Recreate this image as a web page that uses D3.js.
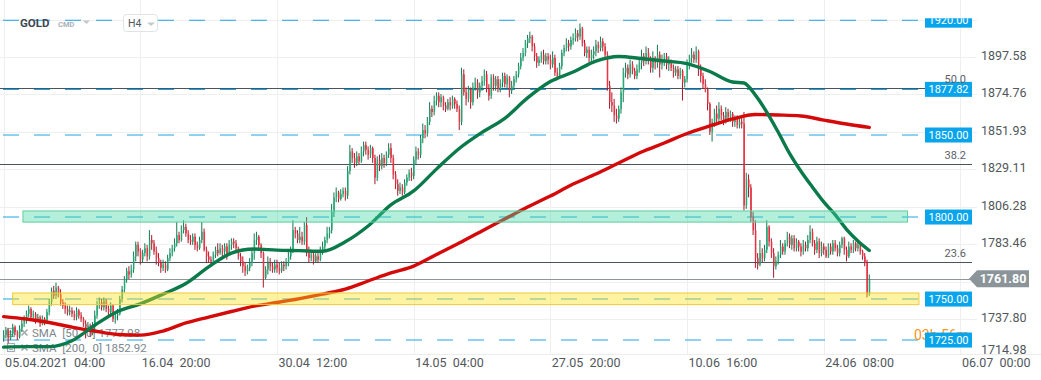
<!DOCTYPE html>
<html><head><meta charset="utf-8">
<script src="https://cdn.jsdelivr.net/npm/d3@7"></script>
<style>
html,body{margin:0;padding:0;background:#fff;}
svg{display:block;font-family:Roboto,"Noto Sans",sans-serif;}
</style></head><body>
<svg id="chart" width="1041" height="380"></svg>
<script>
// ---------- DATA (H4 bars, GOLD, 05.04.2021 04:00 -> 29.06.2021) ----------
const opens = [
1726,1728,1731,1726,1729,1733,1730,1727,1732,1735,
1737,1741,1744,1739,1741,1737,1739,1735,1738,1736,
1742,1748,1755,1752,1757,1753,1748,1746,1744,1742,
1743,1741,1739,1743,1740,1738,1735,1731,1734,1729,
1733,1740,1746,1748,1745,1749,1744,1742,1746,1738,
1740,1741,1750,1756,1762,1767,1765,1768,1776,1783,
1779,1774,1778,1781,1776,1786,1784,1779,1775,1772,
1769,1771,1768,1775,1778,1781,1784,1789,1786,1792,
1794,1790,1786,1785,1788,1783,1781,1786,1791,1780,
1776,1774,1773,1777,1780,1778,1781,1779,1782,1778,
1783,1785,1784,1781,1776,1773,1770,1767,1769,1772,
1778,1786,1788,1783,1778,1763,1768,1772,1770,1768,
1771,1769,1767,1771,1770,1772,1776,1780,1792,1790,
1786,1788,1785,1795,1778,1775,1777,1773,1776,1774,
1779,1782,1786,1790,1792,1803,1812,1815,1811,1814,
1816,1813,1828,1840,1836,1833,1837,1834,1840,1844,
1841,1838,1842,1836,1824,1835,1831,1836,1833,1838,
1842,1836,1826,1820,1816,1818,1815,1821,1824,1827,
1825,1835,1840,1838,1848,1853,1851,1858,1866,1864,
1871,1874,1870,1873,1868,1866,1870,1868,1872,1869,
1866,1858,1887,1876,1872,1878,1870,1879,1882,1876,
1880,1883,1887,1878,1874,1885,1880,1884,1878,1882,
1886,1881,1885,1877,1880,1884,1887,1892,1897,1900,
1906,1909,1910,1904,1898,1894,1896,1899,1895,1898,
1896,1893,1897,1888,1886,1892,1900,1903,1906,1904,
1908,1909,1912,1910,1915,1906,1900,1902,1897,1899,
1901,1905,1903,1907,1904,1899,1880,1870,1868,1862,
1860,1866,1876,1888,1891,1887,1893,1889,1886,1890,
1894,1898,1895,1900,1896,1891,1897,1894,1899,1893,
1896,1898,1893,1895,1891,1888,1890,1886,1889,1882,
1884,1893,1897,1899,1896,1901,1890,1886,1881,1878,
1869,1852,1858,1863,1860,1866,1862,1859,1864,1861,
1863,1858,1860,1856,1858,1857,1807,1823,1818,1800,
1792,1775,1771,1778,1775,1780,1794,1785,1778,1770,
1773,1777,1782,1779,1784,1788,1783,1787,1781,1785,
1782,1779,1783,1781,1786,1791,1784,1780,1785,1778,
1782,1780,1776,1782,1779,1784,1781,1778,1783,1787,
1780,1776,1782,1780,1784,1781,1783,1779,1776,1772,1753
];
const highs = [
1731,1733,1732,1731,1735,1734,1731,1734,1738,1740,
1743,1746,1745,1743,1742,1741,1740,1740,1739,1744,
1750,1757,1758,1760,1758,1756,1750,1748,1746,1746,
1745,1743,1745,1744,1742,1739,1737,1736,1735,1736,
1743,1749,1751,1750,1751,1750,1746,1748,1747,1741,
1744,1752,1758,1764,1769,1770,1771,1779,1785,1785,
1781,1780,1784,1783,1792,1789,1786,1782,1778,1774,
1774,1773,1777,1781,1783,1787,1797,1791,1795,1798,
1796,1792,1789,1790,1790,1785,1788,1797,1793,1782,
1779,1776,1779,1782,1784,1784,1783,1784,1784,1786,
1787,1787,1786,1782,1778,1776,1772,1771,1775,1781,
1790,1791,1789,1784,1779,1770,1776,1775,1772,1774,
1774,1772,1773,1773,1775,1779,1782,1798,1794,1792,
1794,1791,1797,1800,1782,1780,1779,1778,1778,1782,
1785,1788,1794,1794,1808,1815,1818,1816,1817,1818,
1818,1831,1844,1842,1839,1840,1839,1843,1846,1846,
1843,1844,1843,1838,1837,1838,1839,1838,1840,1845,
1845,1838,1828,1823,1821,1820,1823,1826,1829,1830,
1837,1843,1842,1850,1857,1856,1861,1870,1868,1874,
1876,1876,1875,1874,1870,1872,1873,1874,1873,1871,
1868,1891,1890,1879,1880,1879,1882,1885,1884,1882,
1886,1890,1889,1881,1887,1887,1886,1886,1884,1888,
1888,1887,1886,1883,1886,1889,1894,1900,1903,1908,
1911,1913,1911,1906,1900,1898,1901,1902,1900,1900,
1899,1901,1899,1891,1894,1902,1905,1909,1908,1910,
1912,1915,1914,1918,1916,1908,1904,1904,1902,1904,
1908,1907,1910,1909,1906,1901,1883,1876,1872,1866,
1868,1879,1891,1894,1893,1896,1895,1891,1893,1896,
1902,1900,1904,1903,1898,1901,1898,1905,1901,1899,
1900,1900,1898,1896,1893,1892,1892,1891,1890,1886,
1896,1899,1903,1901,1904,1902,1893,1888,1884,1879,
1870,1860,1866,1868,1870,1868,1864,1867,1866,1865,
1864,1862,1862,1860,1861,1864,1827,1826,1820,1803,
1798,1778,1786,1781,1783,1798,1795,1787,1781,1776,
1779,1786,1784,1786,1791,1790,1789,1789,1787,1786,
1784,1786,1785,1789,1795,1793,1786,1788,1787,1785,
1784,1782,1784,1784,1786,1786,1783,1785,1788,1788,
1782,1785,1784,1786,1785,1785,1784,1780,1778,1774,1765
];
const lows = [
1724,1726,1723,1725,1727,1728,1725,1726,1730,1733,
1735,1739,1737,1737,1735,1736,1733,1734,1734,1735,
1740,1746,1750,1750,1751,1746,1744,1741,1740,1740,
1739,1737,1737,1738,1736,1733,1726,1730,1727,1728,
1729,1738,1744,1743,1743,1742,1740,1740,1736,1735,
1737,1740,1748,1754,1760,1762,1763,1766,1773,1776,
1771,1772,1776,1773,1774,1780,1777,1771,1770,1766,
1767,1766,1767,1773,1776,1779,1782,1784,1785,1790,
1788,1784,1783,1783,1780,1779,1780,1784,1779,1772,
1772,1770,1771,1775,1776,1777,1776,1777,1774,1777,
1780,1781,1779,1774,1770,1766,1764,1765,1767,1770,
1774,1783,1781,1775,1757,1762,1765,1767,1766,1766,
1766,1765,1766,1767,1768,1770,1774,1778,1787,1784,
1784,1783,1783,1776,1772,1773,1771,1772,1772,1773,
1777,1780,1784,1787,1790,1800,1809,1809,1810,1812,
1810,1811,1826,1833,1830,1831,1832,1833,1837,1838,
1835,1836,1833,1820,1822,1828,1829,1830,1831,1836,
1833,1823,1817,1813,1814,1813,1814,1819,1822,1822,
1823,1832,1835,1836,1845,1848,1849,1856,1861,1862,
1868,1867,1867,1865,1864,1865,1865,1866,1866,1864,
1853,1856,1874,1868,1870,1866,1868,1877,1872,1873,
1877,1880,1876,1871,1872,1877,1877,1876,1876,1879,
1879,1878,1873,1875,1878,1882,1885,1890,1895,1898,
1903,1906,1901,1895,1891,1892,1894,1893,1893,1893,
1890,1891,1886,1885,1885,1890,1898,1901,1901,1902,
1905,1907,1907,1908,1904,1898,1897,1894,1894,1896,
1898,1900,1901,1901,1897,1877,1866,1864,1858,1857,
1858,1863,1870,1885,1884,1885,1887,1884,1884,1888,
1890,1892,1893,1893,1888,1888,1890,1891,1885,1890,
1892,1890,1889,1889,1885,1886,1884,1884,1871,1879,
1882,1890,1894,1894,1894,1886,1882,1878,1876,1865,
1850,1846,1855,1857,1858,1859,1856,1857,1858,1858,
1855,1855,1854,1854,1854,1804,1805,1812,1797,1789,
1769,1768,1770,1772,1773,1778,1782,1775,1763,1768,
1771,1775,1777,1777,1782,1781,1780,1779,1779,1779,
1776,1777,1779,1779,1784,1782,1777,1778,1775,1776,
1777,1775,1775,1777,1777,1779,1776,1776,1781,1777,
1773,1775,1778,1778,1779,1779,1777,1774,1770,1751,1752
];
const closes = [
1728,1731,1726,1729,1733,1730,1727,1732,1735,1737,
1741,1744,1739,1741,1737,1739,1735,1738,1736,1742,
1748,1755,1752,1757,1753,1748,1746,1744,1742,1743,
1741,1739,1743,1740,1738,1735,1731,1734,1729,1733,
1740,1746,1748,1745,1749,1744,1742,1746,1738,1740,
1741,1750,1756,1762,1767,1765,1768,1776,1783,1779,
1774,1778,1781,1776,1786,1784,1779,1775,1772,1769,
1771,1768,1775,1778,1781,1784,1789,1786,1792,1794,
1790,1786,1785,1788,1783,1781,1786,1791,1780,1776,
1774,1773,1777,1780,1778,1781,1779,1782,1778,1783,
1785,1784,1781,1776,1773,1770,1767,1769,1772,1778,
1786,1788,1783,1778,1763,1768,1772,1770,1768,1771,
1769,1767,1771,1770,1772,1776,1780,1792,1790,1786,
1788,1785,1795,1778,1775,1777,1773,1776,1774,1779,
1782,1786,1790,1792,1803,1812,1815,1811,1814,1816,
1813,1828,1840,1836,1833,1837,1834,1840,1844,1841,
1838,1842,1836,1824,1835,1831,1836,1833,1838,1842,
1836,1826,1820,1816,1818,1815,1821,1824,1827,1825,
1835,1840,1838,1848,1853,1851,1858,1866,1864,1871,
1874,1870,1873,1868,1866,1870,1868,1872,1869,1866,
1858,1887,1876,1872,1878,1870,1879,1882,1876,1880,
1883,1887,1878,1874,1885,1880,1884,1878,1882,1886,
1881,1885,1877,1880,1884,1887,1892,1897,1900,1906,
1909,1910,1904,1898,1894,1896,1899,1895,1898,1896,
1893,1897,1888,1886,1892,1900,1903,1906,1904,1908,
1909,1912,1910,1915,1906,1900,1902,1897,1899,1901,
1905,1903,1907,1904,1899,1880,1870,1868,1862,1860,
1866,1876,1888,1891,1887,1893,1889,1886,1890,1894,
1898,1895,1900,1896,1891,1897,1894,1899,1893,1896,
1898,1893,1895,1891,1888,1890,1886,1889,1882,1884,
1893,1897,1899,1896,1901,1890,1886,1881,1878,1869,
1852,1858,1863,1860,1866,1862,1859,1864,1861,1863,
1858,1860,1856,1858,1857,1807,1823,1818,1800,1792,
1775,1771,1778,1775,1780,1794,1785,1778,1770,1773,
1777,1782,1779,1784,1788,1783,1787,1781,1785,1782,
1779,1783,1781,1786,1791,1784,1780,1785,1778,1782,
1780,1776,1782,1779,1784,1781,1778,1783,1787,1780,
1776,1782,1780,1784,1781,1783,1779,1776,1772,1753,1761.8
];

// moving averages (bar index -> value)
const sma50Index = [0,10,20,30,40,50,60,70,80,90,100,110,120,130,140,150,160,170,180,190,200,210,220,230,240,250,260,270,280,290,300,310,320,325,330,335,340,345,350,355,360,365,370,375,380];
const sma50 = [1720.7,1721.0,1721.0,1724.6,1734.0,1742.4,1747.1,1753.0,1759.5,1769.6,1778.0,1780.5,1779.8,1779.5,1779.1,1784.9,1794.5,1807.4,1815.9,1829.2,1841.8,1851.6,1860.2,1872.6,1882.6,1888.4,1895.1,1897.9,1896.6,1895.1,1893.5,1888.7,1882.3,1881.7,1874.3,1864.0,1851.8,1838.8,1827.9,1818.3,1809.2,1801.5,1792.5,1785.4,1779.6];
const sma200Index = [0,10,20,30,40,50,60,70,80,90,100,110,120,130,140,150,160,170,180,190,200,210,220,230,240,250,260,270,280,290,300,310,320,330,340,350,360,370,380];
const sma200 = [1739.3,1737.8,1735.7,1732.9,1730.5,1728.4,1728.0,1730.5,1735.4,1739.0,1742.4,1745.7,1747.9,1750.3,1753.0,1756.1,1761.0,1765.9,1770.1,1777.1,1784.1,1791.5,1798.8,1806.1,1812.8,1820.1,1826.2,1832.9,1839.6,1845.1,1850.9,1855.5,1859.8,1862.5,1862.2,1861.6,1859.1,1856.7,1854.6];

const timeTickIndex = [0,60,120,180,240,300,360,420];
const timeTickLabels = ["05.04.2021  04:00","16.04  20:00","30.04  12:00","14.05  04:00","27.05  20:00","10.06  16:00","24.06  08:00","06.07  00:00"];
const priceTicks = [1714.98,1737.80,1783.46,1806.28,1829.11,1851.93,1874.76,1897.58];
const priceGrid = [1737.80,1760.63,1783.46,1806.28,1829.11,1851.93,1874.76,1897.58,1920.40];
const levelPrices = [1920.00,1877.82,1850.00,1800.00,1750.00,1725.00];
const fibLabels = ["50.0","38.2","23.6"];
const fibPrices = [1878.9,1832.1,1772.3];
const zoneNames = ["resistance","support"];
const zoneStart = [8.5,4.0];
const zoneEnd = [396.8,401.8];
const zoneTop = [1803.7,1753.7];
const zoneBottom = [1796.9,1746.6];
const lastPrice = 1761.80;
const legendNames = ["SMA  [50,  0]","SMA  [200,  0]"];
const legendValues = ["1777.98","1852.92"];
const countdown = "03h 56m";

// ---------- CHART ----------
const svg = d3.select("#chart");
const W = 1041, H = 380;
const x = d3.scaleLinear().domain([0,420]).range([3.6,960.4]);
const y = d3.scaleLinear().domain([1716.5,1932.3]).range([354,0]);

svg.append("rect").attr("width",W).attr("height",H).attr("fill","#fff");

// grid
const grid = svg.append("g");
grid.selectAll(".hg").data(priceGrid).join("line")
  .attr("x1",0).attr("x2",977).attr("y1",d=>Math.round(y(d))+0.5).attr("y2",d=>Math.round(y(d))+0.5)
  .attr("stroke","#efefef").attr("stroke-width",1);
grid.selectAll(".vg").data(timeTickIndex).join("line")
  .attr("x1",d=>Math.round(x(d))+0.5).attr("x2",d=>Math.round(x(d))+0.5).attr("y1",0).attr("y2",354)
  .attr("stroke","#efefef").attr("stroke-width",1);
svg.append("line").attr("x1",0).attr("x2",W).attr("y1",354.5).attr("y2",354.5).attr("stroke","#ececec");

// legend (beneath lines)
const leg = svg.append("g");
legendNames.forEach((nm,k)=>{
  const cy = 333 + k*15;
  leg.append("rect").attr("x",7.5).attr("y",cy-4.5).attr("width",7).attr("height",8).attr("fill","none").attr("stroke","#a3abb1").attr("stroke-width",1.2);
  leg.append("line").attr("x1",9).attr("x2",13).attr("y1",cy-1).attr("y2",cy-1).attr("stroke","#a3abb1");
  leg.append("line").attr("x1",9).attr("x2",13).attr("y1",cy+1.5).attr("y2",cy+1.5).attr("stroke","#a3abb1");
  leg.append("path").attr("d",`M21.5,${cy-3.5}L27.5,${cy+2.5}M27.5,${cy-3.5}L21.5,${cy+2.5}`).attr("stroke","#a3abb1").attr("stroke-width",1.6);
  leg.append("text").attr("x",32).attr("y",cy+4).attr("font-size",11.5).attr("fill","#7d878e")
    .style("white-space","pre").text(nm+" "+legendValues[k]);
});

// x axis
const xAxis = svg.append("g").attr("transform","translate(0,354)")
  .call(d3.axisBottom(x).tickValues(timeTickIndex).tickFormat((d,k)=>timeTickLabels[k]).tickSize(0));
xAxis.select(".domain").remove();
xAxis.selectAll("text").attr("text-anchor","start").attr("x",1).attr("y",13).attr("dy","0")
  .attr("font-size",12.5).attr("font-family","Roboto").attr("fill","#51575c").style("white-space","pre");

// y axis
const yAxis = svg.append("g").attr("transform","translate(981,0)")
  .call(d3.axisRight(y).tickValues(priceTicks).tickFormat(d=>d.toFixed(2)).tickSize(0).tickPadding(0));
yAxis.select(".domain").remove();
yAxis.selectAll("text").attr("x",0).attr("dy","0.35em")
  .attr("y",d=>Math.min(y(d)-2,349)-y(d))
  .attr("font-size",12.5).attr("font-family","Roboto").attr("fill","#51575c");

// dashed levels
svg.append("g").selectAll("line").data(levelPrices).join("line")
  .attr("x1",3).attr("x2",925).attr("y1",d=>y(d)).attr("y2",d=>y(d))
  .attr("stroke","#1ea3e8").attr("stroke-width",1.1).attr("stroke-dasharray","16,15");

// fib lines
svg.append("g").selectAll("line").data(fibPrices).join("line")
  .attr("x1",0).attr("x2",972).attr("y1",d=>Math.round(y(d))+0.5).attr("y2",d=>Math.round(y(d))+0.5)
  .attr("stroke","#4a545d").attr("stroke-width",1);

// last price line
svg.append("line").attr("x1",0).attr("x2",970).attr("y1",Math.round(y(lastPrice))-0.5).attr("y2",Math.round(y(lastPrice))-0.5)
  .attr("stroke","#8c969c").attr("stroke-width",1);

// candles
const n = Math.min(opens.length,highs.length,lows.length,closes.length);
const bars = d3.range(n).map(i=>({i,o:opens[i],h:highs[i],l:lows[i],c:closes[i]}));
const cg = svg.append("g");
cg.selectAll(".wick").data(bars).join("line")
  .attr("x1",d=>x(d.i)).attr("x2",d=>x(d.i))
  .attr("y1",d=>y(d.h)).attr("y2",d=>y(d.l))
  .attr("stroke",d=>d.c>=d.o?"#0f7a50":"#a8172b").attr("stroke-width",1);
cg.selectAll(".body").data(bars).join("rect")
  .attr("x",d=>x(d.i)-0.3).attr("width",1.3)
  .attr("y",d=>y(Math.max(d.o,d.c)))
  .attr("height",d=>Math.max(1,Math.abs(y(d.o)-y(d.c))))
  .attr("fill",d=>d.c>=d.o?"#22ad78":"#f2303f");

// SMAs
const line = d3.line().x(d=>x(d[0])).y(d=>y(d[1])).curve(d3.curveMonotoneX);
const s200 = sma200Index.map((k,j)=>[k,sma200[j]]);
const s50 = sma50Index.map((k,j)=>[k,sma50[j]]);
svg.append("path").attr("d",line(s200)).attr("fill","none").attr("stroke","#d40a0a").attr("stroke-width",3.4).attr("stroke-linecap","round").attr("stroke-linejoin","round");
svg.append("path").attr("d",line(s50)).attr("fill","none").attr("stroke","#0b7a4b").attr("stroke-width",3.4).attr("stroke-linecap","round").attr("stroke-linejoin","round");

// zones on top (semi transparent)
const zoneFill = ["rgb(64,214,163)","rgb(250,225,20)"];
const zoneStroke = ["#5fcf9f","#f1c93a"];
zoneNames.forEach((nm,k)=>{
  svg.append("rect")
    .attr("x",x(zoneStart[k])).attr("width",x(zoneEnd[k])-x(zoneStart[k]))
    .attr("y",y(zoneTop[k])).attr("height",y(zoneBottom[k])-y(zoneTop[k]))
    .attr("fill",zoneFill[k]).attr("fill-opacity",0.4)
    .attr("stroke",zoneStroke[k]).attr("stroke-width",1);
});

// countdown text (partly behind level box)
svg.append("text").attr("x",914).attr("y",340).attr("font-size",14).attr("fill","#f7931e").text(countdown);

// level boxes
svg.append("clipPath").attr("id","lvclip").append("rect").attr("x",0).attr("y",18.3).attr("width",W).attr("height",H);
const lv = svg.append("g").attr("clip-path","url(#lvclip)");
const lvG = lv.selectAll("g").data(levelPrices).join("g").attr("transform",d=>`translate(925,${y(d)})`);
lvG.append("rect").attr("x",0).attr("y",-7.5).attr("width",47).attr("height",15).attr("fill","#09a5ec");
lvG.append("text").attr("x",23.5).attr("y",0).attr("dy","0.35em").attr("text-anchor","middle")
  .attr("font-size",11).attr("fill","#fff").text(d=>d.toFixed(2));

// fib labels
svg.append("g").selectAll("text").data(fibPrices).join("text")
  .attr("x",966).attr("y",d=>y(d)-5).attr("text-anchor","end").attr("font-size",11).attr("fill","#5b6167")
  .text((d,k)=>fibLabels[k]);

// last price label
const ly = y(lastPrice)-1;
svg.append("path").attr("d",`M969,${ly}L977,${ly-8.5}L1029,${ly-8.5}L1029,${ly+8.5}L977,${ly+8.5}Z`).attr("fill","#8a9499");
svg.append("text").attr("x",1003).attr("y",ly).attr("dy","0.36em").attr("text-anchor","middle")
  .attr("font-size",12.5).attr("font-weight",700).attr("fill","#fff").text(lastPrice.toFixed(2));

// header
const hd = svg.append("g");
hd.append("text").attr("x",20).attr("y",27.3).attr("font-size",11.5).attr("font-weight",700).attr("fill","#3d4852").text("GOLD");
hd.append("text").attr("x",58).attr("y",26.7).attr("font-size",7.5).attr("font-weight",700).attr("fill","#a9b1b8").text("CMD");
hd.append("path").attr("d","M83,20.5L90,20.5L86.5,24Z").attr("fill","#c2c7cb");
hd.append("rect").attr("x",123.5).attr("y",14.5).attr("width",34).attr("height",17).attr("rx",3).attr("fill","#fff").attr("stroke","#dfe3e6");
hd.append("text").attr("x",128).attr("y",27).attr("font-size",10.5).attr("fill","#50585e").text("H4");
hd.append("path").attr("d","M147,22.5L155,22.5L151,26Z").attr("fill","#c4c9cd");
</script>
</body></html>
